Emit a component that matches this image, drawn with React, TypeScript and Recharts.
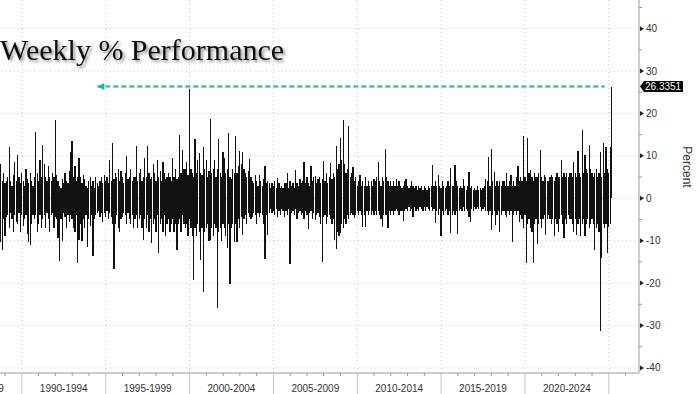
import { BarChart, Bar, XAxis, YAxis, CartesianGrid, ReferenceLine, ReferenceDot } from 'recharts';

// monthly slots from Oct 1988, largest weekly gain / loss in each slot (percent)
const startYear = 1988.75;
const slotsPerYear = 12;

const weeklyGain = [
  8, 4, 6, 3.5, 4, 5, 12.2, 4, 3, 5.5, 8.6, 4,
  10.2, 5, 3.5, 6, 4, 3, 7, 4.5, 3.5, 6, 4, 3,
  5, 15.7, 6, 4, 9, 5, 12.6, 8, 5, 4, 7.5, 5,
  4, 6, 5, 18.5, 5.5, 4, 3, 2.5, 4.5, 3.5, 6, 4,
  3.5, 6.5, 11, 13.4, 5, 7.5, 4, 5, 9.4, 5, 3.5, 5.5,
  4.5, 3, 2.5, 4, 5, 3, 4, 2.5, 5, 3.5, 3, 4,
  5, 3.5, 5.5, 4, 5, 3.5, 9, 4, 13.1, 4.5, 6, 5,
  7, 4, 6.5, 5, 3.5, 6, 10, 4.5, 5, 7, 4, 5,
  5, 12.3, 4, 6, 7, 4, 5, 9.4, 5, 12.4, 6, 4.5,
  5, 8, 6, 4, 9, 5, 6.5, 4, 8.5, 6, 4.5, 5,
  6, 5, 4, 9.4, 5, 7, 4.5, 5, 14.9, 6, 11.4, 7,
  7, 8.5, 5.5, 25.8, 7, 6, 5, 14, 6, 9, 10.6, 6,
  5.5, 12.2, 7, 9, 5, 6.5, 18.8, 6, 7, 9, 5, 7,
  13.9, 6, 5, 11, 9.5, 6, 7, 15.5, 5, 4.5, 7, 6,
  14.7, 6, 7.5, 11.2, 8, 11, 7, 6, 5, 6.5, 9.2, 5,
  4, 3.5, 5.5, 4, 3, 5.5, 4, 3, 4.5, 7.5, 3.5, 4,
  3.5, 2.5, 3.5, 3, 4, 2.5, 4.7, 3.5, 2.5, 3, 2.5, 3.5,
  3.5, 5.9, 2.5, 4, 3, 3.5, 2.5, 6.7, 3.5, 3, 4.5, 3.5,
  4, 8.6, 3.5, 5, 3.5, 3, 7.6, 4, 5, 5.3, 3.5, 4.5,
  5, 3.5, 4.5, 8.9, 4, 6, 3.5, 5, 8.4, 4.5, 6, 5,
  12.3, 7, 8, 14.1, 9, 18.5, 8, 6, 7, 17, 5, 6,
  7.4, 4, 5, 3, 4, 5.5, 3, 4, 3, 5.1, 3, 4,
  3, 4, 3, 4.5, 4, 5, 8.6, 4, 3, 5, 4, 11.5,
  5, 4, 3, 4, 3, 4, 3, 4.5, 3, 4, 3, 2.5,
  3, 4, 4.5, 3, 2.5, 3, 4, 3, 2.5, 3, 2, 3,
  2.5, 3, 2, 3, 2.5, 2, 3, 2.5, 3, 7.9, 3, 4,
  3, 5.5, 3, 2.5, 4, 3, 2.5, 3, 4, 3, 7.1, 3,
  3, 7.9, 4, 3, 2.5, 3, 2.5, 4.5, 3, 2, 3, 6.3,
  2.5, 3, 2, 2.5, 2, 3, 2, 2.5, 2, 2.5, 3, 4.5,
  4, 9.7, 3, 11.5, 4, 6.3, 3, 4, 3, 4, 3, 4,
  4, 3, 5.9, 3, 4, 5.5, 3, 4, 3, 5, 7.5, 4,
  5, 4, 14.7, 5, 4, 14.1, 6, 6.7, 5, 4, 6, 5,
  5, 6, 11.4, 5, 4, 5.5, 5, 4, 4, 5, 5.5, 5,
  4, 5, 6, 5, 5, 9, 5, 6, 5, 5.9, 5, 6,
  6, 5, 8.6, 6, 5, 11.2, 6, 5, 16, 6, 10.2, 7,
  6, 12.6, 7, 6, 5, 6, 7, 5, 6, 11, 5, 13,
  6, 12.2, 7, 6, 12.2, 26.3351,
];

const weeklyLoss = [
  -10.2, -12.2, -5, -9, -4.5, -4, -7, -3.5, -5, -8, -4, -5.5,
  -6, -3.5, -8, -4, -6.5, -5, -4, -8.5, -10.2, -11, -6, -4,
  -5, -4, -8, -6, -4, -7, -5, -4, -7, -3.5, -5, -8,
  -4, -3.5, -7, -4.5, -5, -9.4, -14.9, -5, -10, -3.5, -4.5, -7,
  -4, -5.5, -4, -5, -7, -8, -4, -15.3, -9.8, -6, -10, -5,
  -7, -4, -11.4, -5, -6.5, -4, -13.7, -5, -4, -3.5, -3, -4.5,
  -3.5, -5.5, -3.5, -4.5, -3, -5, -3.5, -4.5, -6, -16.7, -6, -4,
  -7, -8, -5, -4.5, -3.5, -4, -6, -3.5, -5, -6, -4, -7,
  -5, -4, -7, -5, -4, -7, -9.8, -5, -7, -4, -8, -5,
  -10.6, -6, -5, -8, -4, -12.8, -6, -5, -8, -4, -9, -6,
  -5, -8, -6, -5, -8, -6, -12.2, -6, -5, -8, -4, -6,
  -7, -6, -9, -5, -7, -9, -19.2, -7, -9, -6, -8, -14.5,
  -7, -22.1, -8, -7, -6, -10, -9.8, -7, -9, -6, -7, -25.9,
  -8, -7, -10, -6, -7, -9, -11.8, -6, -20.2, -7, -6, -10.2,
  -6, -10.2, -5, -7, -4.5, -8.6, -5, -4, -6, -3.5, -4.5, -5,
  -4.5, -3.5, -4, -6, -3.5, -4.5, -3.5, -4, -6, -14.4, -4, -8.6,
  -3.5, -2.5, -3.5, -3, -4, -2.5, -4.5, -3, -4, -2.5, -3, -4.5,
  -3, -4, -2.5, -15.5, -3.5, -3, -4, -2.5, -5, -3.5, -3, -4,
  -3.5, -5, -3, -4, -7.3, -3.5, -3, -5, -3.5, -5.1, -4, -3.5,
  -4.5, -6, -15.1, -4.5, -4, -6, -4.5, -4, -5, -6, -5, -9.8,
  -12, -8, -9, -8.2, -6, -7, -5, -6, -4, -5, -4, -3.5,
  -4, -4.7, -4, -3, -4, -3, -4, -6.7, -4, -6.8, -3, -4,
  -3, -4, -3, -4, -3, -4, -3, -4, -5, -6.7, -4, -4,
  -4, -6.9, -3, -4, -3, -4, -3, -2.5, -3, -4, -3, -3,
  -5.3, -3, -2.5, -3, -2, -3, -2.5, -4.5, -2, -3, -2.5, -3,
  -2, -2.5, -3, -2, -3, -2, -2.5, -3, -2, -3, -2.5, -5.9,
  -3, -4, -2.5, -9, -3, -4, -3, -2.5, -4, -3, -8.2, -4,
  -3, -4, -3, -8.4, -3, -2.5, -3, -2, -3, -2.5, -3, -4.5,
  -5.5, -2.5, -3, -2, -2.5, -2, -2.5, -2, -3, -2.5, -2, -3,
  -3, -4, -3, -7.5, -4, -3, -6.3, -4, -3, -7.9, -4, -3,
  -3, -4, -4.5, -3, -4, -3, -10.4, -4, -3, -4, -3, -5.5,
  -4, -5, -7, -4, -15.2, -6, -5, -7, -8, -15.3, -6, -5,
  -10.8, -6, -5, -7, -5, -4, -8.6, -5, -4, -5, -6, -5,
  -8.8, -5, -6, -7.9, -5, -4, -6, -9.4, -5, -6, -4, -5,
  -5, -6, -7.9, -5, -8.6, -6, -5, -9, -6, -5, -9, -6,
  -5, -7, -6, -5, -6, -12.2, -7, -6, -8, -31.2, -14.1, -6,
  -7, -6, -13, -6.7, -6, 0,
];

const latest = 26.3351;
const arrowFrom = 1994.5;
const arrowTo = 2024.75;

const periodStarts = [1985, 1990, 1995, 2000, 2005, 2010, 2015, 2020, 2025];
const periodLabels = ['1985-1989', '1990-1994', '1995-1999', '2000-2004', '2005-2009', '2010-2014', '2015-2019', '2020-2024'];
const yMajor = [-40, -30, -20, -10, 0, 10, 20, 30, 40];
const yMinor = [-35, -25, -15, -5, 5, 15, 25, 35, 45];

const X_MIN = 1985;
const X_MAX = 2026.8;
const Y_MIN = -41.2;
const Y_MAX = 46.75;

const CHART_W = 762;
const CHART_H = 394;
const X_AXIS_H = 21;
const Y_AXIS_W = 61;
const AXIS_Y = CHART_H - X_AXIS_H;
const AXIS_X = CHART_W - Y_AXIS_W;

const data = weeklyGain.map((g, i) => ({
  t: startYear + i / slotsPerYear,
  gain: g,
  loss: weeklyLoss[i],
}));

const xTicks: number[] = [];
for (let yr = X_MIN; yr <= 2026; yr++) xTicks.push(yr);
periodStarts.slice(0, -1).forEach((p) => xTicks.push(p + 2.5));
xTicks.sort((a, b) => a - b);

const yTicks = [...yMajor, ...yMinor].sort((a, b) => a - b);

const AXIS = '#9a9a9a';
const FONT = '"Liberation Sans", Arial, sans-serif';

function XTick(props: any) {
  const { x, payload } = props;
  const v = payload.value as number;
  if (v % 5 === 2.5) {
    const label = periodLabels[periodStarts.indexOf(v - 2.5)];
    return (
      <text x={x} y={AXIS_Y + 19} textAnchor="middle" fontSize={10} fill="#333" fontFamily={FONT}>
        {label}
      </text>
    );
  }
  if (v % 5 === 0) return <line x1={x} x2={x} y1={AXIS_Y} y2={CHART_H} stroke="#c4c4c4" />;
  return <line x1={x} x2={x} y1={AXIS_Y} y2={AXIS_Y + 3} stroke={AXIS} />;
}

function YTick(props: any) {
  const { y, payload } = props;
  const x = AXIS_X;
  const v = payload.value as number;
  if (v % 10 !== 0) return <line x1={x} x2={x + 3} y1={y} y2={y} stroke={AXIS} />;
  return (
    <g>
      <path d={`M${x + 1},${y - 2.5}L${x + 5},${y}L${x + 1},${y + 2.5}Z`} fill="#222" />
      <text x={x + 7} y={y} dy="0.35em" fontSize={10} fill="#333" fontFamily={FONT}>
        {v}
      </text>
    </g>
  );
}

function ArrowHead(props: any) {
  const { cx, cy } = props;
  return <path d={`M${cx},${cy}L${cx + 7},${cy - 3.5}L${cx + 7},${cy + 3.5}Z`} fill="#1fb3a2" />;
}

function LastTag(props: any) {
  const { cx, cy } = props;
  return (
    <g>
      <path
        d={`M${cx + 1},${cy}L${cx + 5},${cy - 5.5}L${cx + 44},${cy - 5.5}L${cx + 44},${cy + 5.5}L${cx + 5},${cy + 5.5}Z`}
        fill="#000"
      />
      <text x={cx + 6} y={cy} dy="0.35em" fontSize={10} fill="#fff" fontFamily={FONT}>
        {latest.toFixed(4)}
      </text>
    </g>
  );
}

export default function App() {
  return (
    <div style={{ position: 'relative', width: 700, height: 394, overflow: 'hidden', background: '#fff' }}>
      <style>
        {'html, body { margin: 0; padding: 0; } .recharts-bar-rectangle path { shape-rendering: crispEdges; }'}
      </style>
      <div style={{ position: 'absolute', left: -62, top: 0 }}>
        <BarChart
          width={CHART_W}
          height={CHART_H}
          data={data}
          stackOffset="sign"
          margin={{ top: 0, right: 0, bottom: 0, left: 0 }}
        >
          <CartesianGrid
            stroke="#c8c8c8"
            strokeDasharray="1 3"
            horizontalValues={yMajor}
            verticalValues={periodStarts}
          />
          <XAxis
            dataKey="t"
            type="number"
            domain={[X_MIN, X_MAX]}
            ticks={xTicks}
            interval={0}
            height={X_AXIS_H}
            tickLine={false}
            tickMargin={0}
            axisLine={{ stroke: AXIS }}
            tick={<XTick />}
            allowDataOverflow
          />
          <YAxis
            orientation="right"
            type="number"
            domain={[Y_MIN, Y_MAX]}
            ticks={yTicks}
            interval={0}
            width={Y_AXIS_W}
            tickLine={false}
            tickMargin={0}
            axisLine={{ stroke: AXIS }}
            tick={<YTick />}
            allowDataOverflow
          />
          <Bar dataKey="gain" stackId="w" fill="#111" barSize={1.4} isAnimationActive={false} />
          <Bar dataKey="loss" stackId="w" fill="#111" barSize={1.4} isAnimationActive={false} />
          <ReferenceLine
            segment={[{ x: arrowFrom, y: latest }, { x: arrowTo, y: latest }]}
            stroke="#1fb3a2"
            strokeWidth={2}
            strokeDasharray="5 3"
          />
          <ReferenceDot x={arrowFrom} y={latest} r={3} shape={<ArrowHead />} />
          <ReferenceDot x={X_MAX} y={latest} r={3} shape={<LastTag />} ifOverflow="visible" />
        </BarChart>
      </div>
      <svg width={700} height={394} style={{ position: 'absolute', left: 0, top: 0, pointerEvents: 'none' }}>
        <defs>
          <filter id="titleShadow" x="-5%" y="-20%" width="115%" height="160%">
            <feDropShadow dx="2" dy="2" stdDeviation="1.5" floodColor="#000" floodOpacity="0.45" />
          </filter>
        </defs>
        <text x={0} y={59.5} fontFamily='"Liberation Serif", "Times New Roman", serif' fontSize={30} fill="#111" filter="url(#titleShadow)">
          Weekly % Performance
        </text>
        <text
          x={687}
          y={167}
          transform="rotate(90 687 167)"
          textAnchor="middle"
          dy="0.35em"
          fontSize={12}
          fill="#333"
          fontFamily={FONT}
        >
          Percent
        </text>
      </svg>
    </div>
  );
}
